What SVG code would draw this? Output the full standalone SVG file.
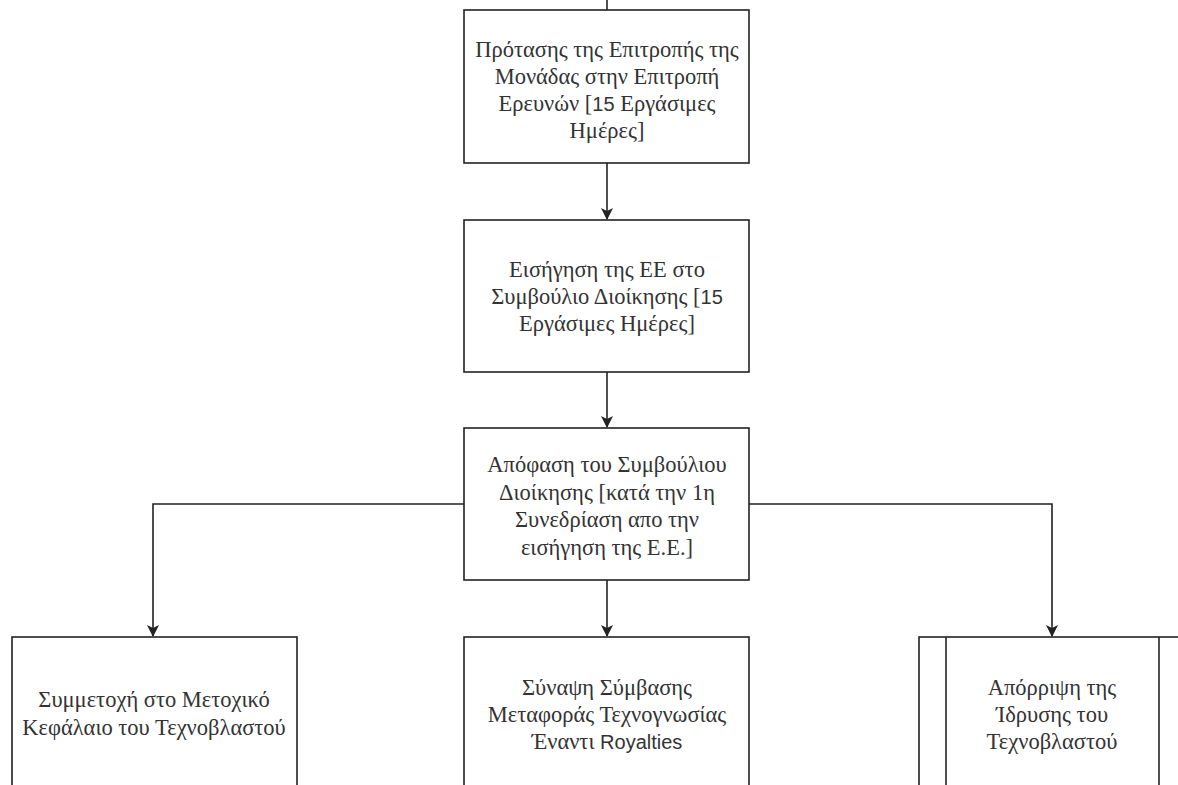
<svg xmlns="http://www.w3.org/2000/svg" width="1178" height="785" viewBox="0 0 1178 785">
<style>
.box{fill:#fff;stroke:#222;stroke-width:1.6}
.edge{fill:none;stroke:#222;stroke-width:1.6}
.t{font-family:"Liberation Serif","DejaVu Serif",serif;font-size:22.5px;fill:#333;text-anchor:middle}
.s{font-family:"Liberation Sans","DejaVu Sans",sans-serif;font-size:20px}
</style>
<defs>
<marker id="arr" viewBox="0 0 12 12" refX="11" refY="6" markerWidth="12" markerHeight="12" markerUnits="userSpaceOnUse" orient="auto">
<path d="M0,0 L12,6 L0,12 L3,6 z" fill="#222"/>
</marker>
</defs>
<rect width="1178" height="785" fill="#fff"/>
<g id="connectors">
<line class="edge" x1="607" y1="0" x2="607" y2="10"/>
<line class="edge" x1="607" y1="163" x2="607" y2="219" marker-end="url(#arr)"/>
<line class="edge" x1="607" y1="372" x2="607" y2="427" marker-end="url(#arr)"/>
<line class="edge" x1="607" y1="580" x2="607" y2="636" marker-end="url(#arr)"/>
<polyline class="edge" points="464,504 153,504 153,636" marker-end="url(#arr)"/>
<polyline class="edge" points="749,504 1052,504 1052,636" marker-end="url(#arr)"/>
</g>
<g id="n1">
<rect class="box" x="464" y="10" width="285" height="153"/>
<text class="t"><tspan x="607" y="57">Πρότασης της Επιτροπής της</tspan><tspan x="607" y="84">Μονάδας στην Επιτροπή</tspan><tspan x="607" y="111">Ερευνών [<tspan class="s">15</tspan> Εργάσιμες</tspan><tspan x="607" y="138">Ημέρες]</tspan></text>
</g>
<g id="n2">
<rect class="box" x="464" y="220" width="285" height="152"/>
<text class="t"><tspan x="607" y="277">Εισήγηση της ΕΕ στο</tspan><tspan x="607" y="304">Συμβούλιο Διοίκησης [<tspan class="s">15</tspan></tspan><tspan x="607" y="331">Εργάσιμες Ημέρες]</tspan></text>
</g>
<g id="n3">
<rect class="box" x="464" y="428" width="285" height="152"/>
<text class="t"><tspan x="607" y="472">Απόφαση του Συμβούλιου</tspan><tspan x="607" y="500">Διοίκησης [κατά την 1η</tspan><tspan x="607" y="527">Συνεδρίαση απο την</tspan><tspan x="607" y="555">εισήγηση της Ε.Ε.]</tspan></text>
</g>
<g id="n4">
<rect class="box" x="12" y="637" width="285" height="160"/>
<text class="t"><tspan x="154" y="707">Συμμετοχή στο Μετοχικό</tspan><tspan x="154" y="735">Κεφάλαιο του Τεχνοβλαστού</tspan></text>
</g>
<g id="n5">
<rect class="box" x="464" y="637" width="285" height="160"/>
<text class="t"><tspan x="607" y="695">Σύναψη Σύμβασης</tspan><tspan x="607" y="722">Μεταφοράς Τεχνογνωσίας</tspan><tspan x="607" y="749">Έναντι <tspan class="s">Royalties</tspan></tspan></text>
</g>
<g id="n6">
<rect class="box" x="919" y="637" width="266" height="160"/>
<line class="edge" x1="946" y1="637" x2="946" y2="797"/>
<line class="edge" x1="1159" y1="637" x2="1159" y2="797"/>
<text class="t"><tspan x="1052" y="695">Απόρριψη της</tspan><tspan x="1052" y="722">Ίδρυσης του</tspan><tspan x="1052" y="749">Τεχνοβλαστού</tspan></text>
</g>
</svg>
